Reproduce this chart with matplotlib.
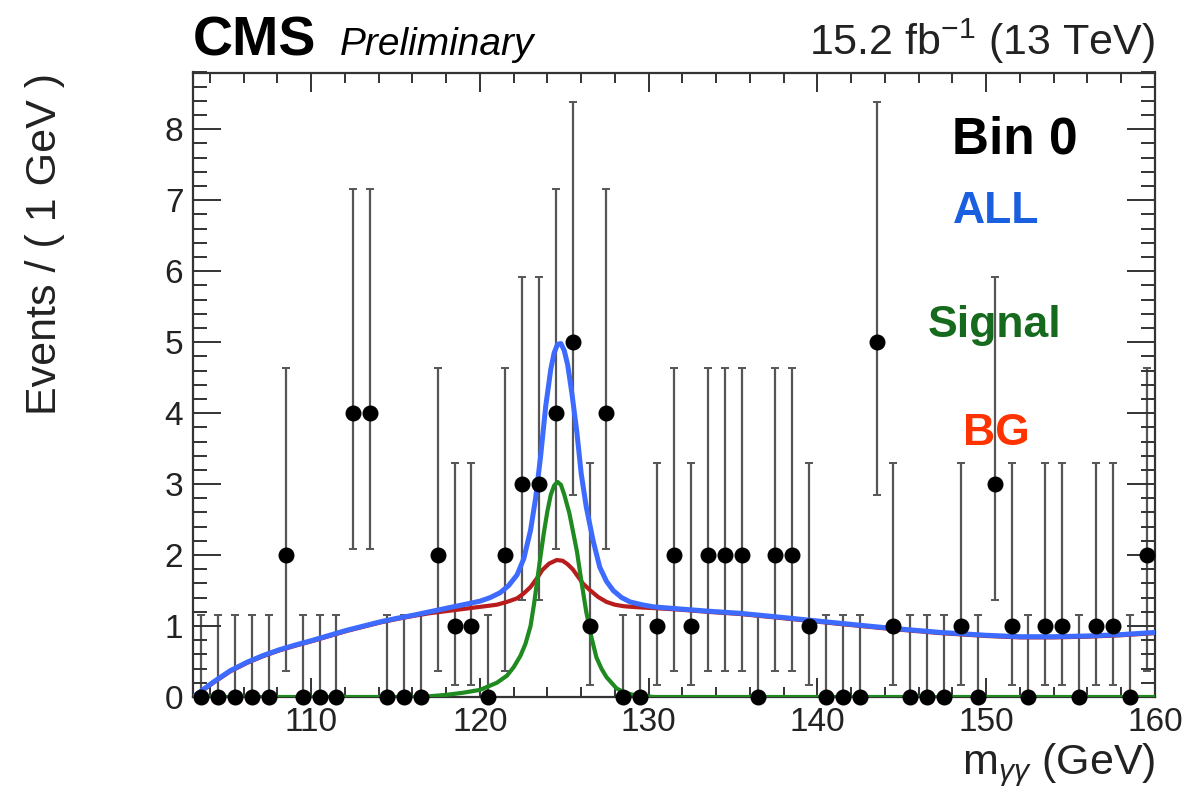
import numpy as np
import matplotlib
matplotlib.use("Agg")
from matplotlib import pyplot as plt
from matplotlib.ticker import MultipleLocator

plt.rcParams['font.family'] = ['Liberation Sans', 'DejaVu Sans']
plt.rcParams['mathtext.fontset'] = 'custom'
plt.rcParams['mathtext.rm'] = 'Liberation Sans'
plt.rcParams['mathtext.it'] = 'Liberation Sans:italic'
plt.rcParams['mathtext.bf'] = 'Liberation Sans:bold'

# data: events per 1 GeV bin, bins from 103 to 160
bin_centers = np.arange(103.5, 160, 1.0)
counts = [0, 0, 0, 0, 0, 2, 0, 0, 0, 4,
          4, 0, 0, 0, 2, 1, 1, 0, 2, 3,
          3, 4, 5, 1, 4, 0, 0, 1, 2, 1,
          2, 2, 2, 0, 2, 2, 1, 0, 0, 0,
          5, 1, 0, 0, 0, 1, 0, 3, 1, 0,
          1, 1, 0, 1, 1, 0, 2]
# poisson interval (low, high) per count
err_low = {0: 0.0, 1: 0.17, 2: 0.36, 3: 1.37, 4: 2.09, 5: 2.84}
err_high = {0: 1.15, 1: 3.30, 2: 4.64, 3: 5.92, 4: 7.16, 5: 8.38}

# fitted curves
all_x = [103.0, 103.4, 104.2, 105.2, 106.2, 107.1, 108.1, 109.1, 110.1, 111.1,
         112.1, 113.1, 114.1, 115.1, 116.0, 117.0, 118.0, 119.0, 120.0, 120.6,
         121.2, 121.7, 122.2, 122.6, 123.0, 123.3, 123.6, 123.9, 124.2, 124.4,
         124.6, 124.8, 125.0, 125.2, 125.45, 125.75, 126.0, 126.3, 126.7, 127.1,
         127.5, 127.9, 128.4, 128.9, 129.6, 130.3, 131.9, 133.5, 135.4, 138.4,
         141.3, 144.3, 147.3, 150.0, 152.0, 154.0, 156.0, 158.0, 160.0]
all_y = [0.0, 0.07, 0.21, 0.37, 0.49, 0.58, 0.665, 0.735, 0.80, 0.87,
         0.94, 1.00, 1.06, 1.11, 1.15, 1.20, 1.25, 1.30, 1.35, 1.40,
         1.47, 1.57, 1.72, 1.95, 2.35, 2.80, 3.40, 4.10, 4.62, 4.85,
         4.97, 4.98, 4.88, 4.68, 4.28, 3.72, 3.15, 2.68, 2.21, 1.83,
         1.63, 1.50, 1.40, 1.34, 1.30, 1.27, 1.24, 1.21, 1.18, 1.11,
         1.04, 0.97, 0.91, 0.87, 0.85, 0.85, 0.86, 0.88, 0.91]

bg_x = [103.0, 103.4, 104.2, 105.2, 106.2, 107.1, 108.1, 109.1, 110.1, 111.1,
        112.1, 113.1, 114.1, 115.1, 116.0, 117.0, 118.0, 119.0, 120.0, 121.0,
        121.6, 122.2, 122.6, 123.0, 123.4, 123.7, 124.1, 124.55, 124.9, 125.2,
        125.5, 125.8, 126.1, 126.5, 127.0, 127.5, 128.0, 128.5, 129.0, 129.7,
        130.5, 131.9, 133.5, 135.4, 138.4, 141.3, 144.3, 147.3, 150.0, 152.0,
        154.0, 156.0, 158.0, 160.0]
bg_y = [0.0, 0.06, 0.20, 0.36, 0.48, 0.57, 0.655, 0.725, 0.79, 0.86,
        0.93, 0.99, 1.05, 1.10, 1.14, 1.18, 1.21, 1.24, 1.27, 1.30,
        1.34, 1.39, 1.46, 1.55, 1.68, 1.79, 1.88, 1.93, 1.92, 1.87,
        1.80, 1.70, 1.60, 1.51, 1.41, 1.34, 1.30, 1.28, 1.27, 1.26,
        1.25, 1.23, 1.20, 1.17, 1.10, 1.03, 0.96, 0.90, 0.86, 0.84,
        0.84, 0.85, 0.87, 0.90]

sig_x = [103.0, 116.5, 118.0, 119.0, 120.0, 121.0, 121.6, 122.0, 122.4, 122.7,
         123.0, 123.2, 123.4, 123.6, 123.8, 124.0, 124.2, 124.4, 124.6, 124.8,
         125.0, 125.3, 125.5, 125.75, 126.0, 126.3, 126.6, 126.9, 127.2, 127.5,
         128.1, 128.6, 129.1, 130.3, 160.0]
sig_y = [0.0, 0.0, 0.03, 0.06, 0.10, 0.20, 0.30, 0.42, 0.58, 0.75,
         1.00, 1.30, 1.65, 2.00, 2.33, 2.62, 2.85, 2.98, 3.03, 2.99,
         2.85, 2.59, 2.35, 2.05, 1.65, 1.20, 0.85, 0.56, 0.40, 0.28,
         0.12, 0.06, 0.03, 0.0, 0.0]

fig = plt.figure(figsize=(11.92, 7.93), dpi=100)
ax = fig.add_axes([193/1192, 1-697/793, (1155-193)/1192, (697-72.5)/793])

lo = [c - err_low[c] for c in counts]
hi = [err_high[c] - c for c in counts]
ax.errorbar(bin_centers, counts, yerr=[lo, hi], fmt='none', ecolor='#555555',
            elinewidth=1.6, capsize=2.8, capthick=1.4, zorder=1)

ax.plot(bg_x, bg_y, color='#b81c1c', lw=3.0, zorder=2)
ax.plot(sig_x, sig_y, color='#1f8a1f', lw=3.0, zorder=3)
ax.plot(all_x, all_y, color='#3d6bff', lw=3.6, zorder=4)

ax.plot(bin_centers, counts, 'o', color='black', ms=10.5, clip_on=False, zorder=5)

ax.set_xlim(103, 160)
ax.set_ylim(0, 8.8)
ax.xaxis.set_major_locator(MultipleLocator(10))
ax.xaxis.set_minor_locator(MultipleLocator(2))
ax.yaxis.set_major_locator(MultipleLocator(1))
ax.yaxis.set_minor_locator(MultipleLocator(0.2))
ax.tick_params(axis='both', which='both', direction='in', top=True, right=True,
               colors='#333333', labelcolor='#222222', labelsize=24, pad=7)
ax.tick_params(axis='x', which='major', length=14, width=1.4)
ax.tick_params(axis='x', which='minor', length=7, width=1.4)
ax.tick_params(axis='y', which='major', length=20, width=1.4)
ax.tick_params(axis='y', which='minor', length=10, width=1.4)
for s in ax.spines.values():
    s.set_linewidth(1.6)
    s.set_color('#333333')

fig.text(1155/1192, 1-765/793, r"m$_{\gamma\gamma}$ (GeV)", ha='right', va='center',
         fontsize=31, color='#222222')
fig.text(45/1192, 1-73/793, "Events / ( 1 GeV )", rotation=90, ha='center', va='top',
         fontsize=31, color='#222222')

fig.text(193/1192, 1-55/793, "CMS", fontsize=40, fontweight='bold', ha='left', va='baseline')
fig.text(340/1192, 1-55/793, "Preliminary", fontsize=28, style='italic', ha='left', va='baseline')
fig.text(1155/1192, 1-55/793, r"15.2 fb$^{-1}$ (13 TeV)", fontsize=31, ha='right', va='baseline',
         color='#222222')

ax.text(1015/1192, 1-153/793, "Bin 0", transform=fig.transFigure, fontsize=37,
        fontweight='bold', ha='center', va='baseline')
ax.text(996/1192, 1-223/793, "ALL", transform=fig.transFigure, fontsize=32,
        fontweight='bold', color='#1a5fe0', ha='center', va='baseline')
ax.text(995/1192, 1-337/793, "Signal", transform=fig.transFigure, fontsize=32,
        fontweight='bold', color='#166a1e', ha='center', va='baseline')
ax.text(996/1192, 1-445/793, "BG", transform=fig.transFigure, fontsize=32,
        fontweight='bold', color='#ff3300', ha='center', va='baseline')

fig.savefig("out.png", dpi=100)
